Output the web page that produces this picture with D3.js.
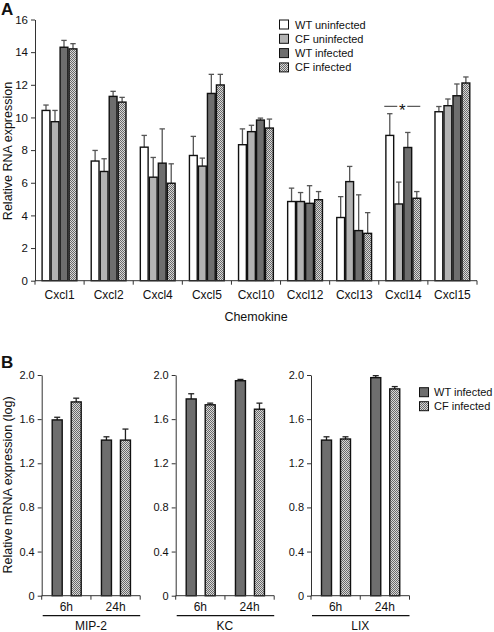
<!DOCTYPE html>
<html><head><meta charset="utf-8">
<script src="https://cdn.jsdelivr.net/npm/d3@7"></script>
<style>body{margin:0;background:#fff}text{font-family:"Liberation Sans",Arial,sans-serif;fill:#111}</style>
</head><body>
<svg id="c" width="494" height="632"></svg>
<script>
// ---------- Panel A data ----------
const chemokines = ["Cxcl1","Cxcl2","Cxcl4","Cxcl5","Cxcl10","Cxcl12","Cxcl13","Cxcl14","Cxcl15"];
const seriesA = ["WT uninfected","CF uninfected","WT infected","CF infected"];
const wtUninf     = [10.43, 7.33, 8.18, 7.67, 8.33, 4.85, 3.87, 8.90, 10.35];
const wtUninfErr  = [10.76, 7.98, 8.90, 8.84, 9.30, 5.67, 5.15, 10.23, 10.67];
const cfUninf     = [9.74, 6.69, 6.34, 7.02, 9.13, 4.85, 6.07, 4.70, 10.72];
const cfUninfErr  = [10.43, 7.47, 7.55, 7.51, 9.52, 5.40, 7.00, 6.04, 11.13];
const wtInf       = [14.30, 11.29, 7.20, 11.47, 9.84, 4.74, 3.07, 8.16, 11.33];
const wtInfErr    = [14.72, 11.60, 9.30, 12.64, 9.96, 5.82, 5.26, 9.08, 12.05];
const cfInf       = [14.20, 10.94, 5.97, 11.99, 9.35, 4.96, 2.90, 5.05, 12.11];
const cfInfErr    = [14.52, 11.23, 7.16, 12.64, 9.90, 5.46, 4.17, 5.46, 12.48];
const yTicksA = [0,2,4,6,8,10,12,14,16];

// ---------- Panel B data ----------
const genesB = ["MIP-2","KC","LIX"];
const timesB = ["6h","24h"];
const seriesB = ["WT infected","CF infected"];
// [gene][time]
const wtInfB    = [[1.593, 1.41], [1.783, 1.948], [1.41, 1.976]];
const wtInfBErr = [[1.617, 1.44], [1.830, 1.960], [1.44, 1.994]];
const cfInfB    = [[1.756, 1.41], [1.730, 1.690], [1.42, 1.874]];
const cfInfBErr = [[1.790, 1.51], [1.745, 1.745], [1.44, 1.895]];
const yTicksB = [0,0.4,0.8,1.2,1.6,2.0];

const svg = d3.select("#c");
const defs = svg.append("defs");
const pat = defs.append("pattern").attr("id","hatch").attr("width",2).attr("height",2).attr("patternUnits","userSpaceOnUse");
pat.append("rect").attr("width",2).attr("height",2).attr("fill","#d8d8d8");
pat.append("rect").attr("x",0).attr("y",0).attr("width",1).attr("height",1).attr("fill","#6a6a6a");
pat.append("rect").attr("x",1).attr("y",1).attr("width",1).attr("height",1).attr("fill","#6a6a6a");

const fillsA = ["#ffffff","#b3b3b3","#6e6e6e","url(#hatch)"];
const fillsB = ["#6e6e6e","url(#hatch)"];
const axisCol = "#333";

// ================= PANEL A =================
const xA = d3.scaleBand().domain(chemokines).range([35, 477]).padding(0);
const subA = d3.scaleBand().domain(seriesA).range([6.5, 42.5]).padding(0);
const yA = d3.scaleLinear().domain([0,16]).range([280.7, 19.5]);
const valsA = [wtUninf, cfUninf, wtInf, cfInf];
const errsA = [wtUninfErr, cfUninfErr, wtInfErr, cfInfErr];

const gA = svg.append("g");
const yAxA = gA.append("g").attr("transform","translate(35,0)")
  .call(d3.axisLeft(yA).tickValues(yTicksA).tickSize(4).tickPadding(3).tickSizeOuter(0));
yAxA.select(".domain").attr("stroke",axisCol);
yAxA.selectAll(".tick line").attr("stroke",axisCol);
yAxA.selectAll("text").attr("font-size",11.5).style("font-family","Liberation Sans, Arial, sans-serif").attr("fill","#111");

chemokines.forEach((c,i)=>{
  seriesA.forEach((s,j)=>{
    const x0 = xA(c)+subA(s), w = subA.bandwidth();
    const v = valsA[j][i], e = errsA[j][i];
    const cx = x0 + w/2;
    gA.append("line").attr("x1",cx).attr("x2",cx).attr("y1",yA(v)).attr("y2",yA(e)).attr("stroke","#555").attr("stroke-width",1.3);
    gA.append("line").attr("x1",cx-2.7).attr("x2",cx+2.7).attr("y1",yA(e)).attr("y2",yA(e)).attr("stroke","#555").attr("stroke-width",1.3);
    gA.append("rect").attr("x",x0+0.6).attr("y",yA(v)).attr("width",w-1.2).attr("height",yA(0)-yA(v))
      .attr("fill",fillsA[j]).attr("stroke","#111").attr("stroke-width",1.4);
  });
});

const xTickPos = chemokines.map(c=>xA(c)).concat([xA.range()[1]]);
gA.append("line").attr("x1",35).attr("x2",477).attr("y1",yA(0)).attr("y2",yA(0)).attr("stroke",axisCol);
xTickPos.forEach(p=>gA.append("line").attr("x1",p).attr("x2",p).attr("y1",yA(0)).attr("y2",yA(0)+4).attr("stroke",axisCol));
chemokines.forEach(c=>gA.append("text").attr("x",xA(c)+xA.bandwidth()/2).attr("y",298.5).attr("text-anchor","middle").attr("font-size",12).text(c));
gA.append("text").attr("x",256).attr("y",321).attr("text-anchor","middle").attr("font-size",12.5).text("Chemokine");
gA.append("text").attr("transform","translate(12,151) rotate(-90)").attr("text-anchor","middle").attr("font-size",12.5).text("Relative RNA expression");
gA.append("text").attr("x",1).attr("y",15).attr("font-size",17).attr("font-weight","bold").text("A");

// significance
const sigL = xA("Cxcl14")+subA(seriesA[0])-1, sigR = xA("Cxcl14")+subA(seriesA[3])+subA.bandwidth()-1;
const sigY = 106.3, sigMid = (sigL+sigR)/2;
gA.append("line").attr("x1",sigL).attr("x2",sigMid-5).attr("y1",sigY).attr("y2",sigY).attr("stroke","#333");
gA.append("line").attr("x1",sigMid+5).attr("x2",sigR).attr("y1",sigY).attr("y2",sigY).attr("stroke","#333");
gA.append("text").attr("x",sigMid).attr("y",sigY+9.5).attr("text-anchor","middle").attr("font-size",17).text("*");

// legend A
seriesA.forEach((s,j)=>{
  const y = 20 + j*14.3;
  gA.append("rect").attr("x",279.5).attr("y",y).attr("width",9).attr("height",9).attr("fill",fillsA[j]).attr("stroke","#111").attr("stroke-width",1);
  gA.append("text").attr("x",295).attr("y",y+8.5).attr("font-size",11).text(s);
});

// ================= PANEL B =================
const yB = d3.scaleLinear().domain([0,2.0]).range([595.7, 375]);
const axStarts = [41.7, 175.7, 311];
const subW = 98.5;
genesB.forEach((gname,gi)=>{
  const x0 = axStarts[gi];
  const xB = d3.scaleBand().domain(timesB).range([x0, x0+subW]).padding(0);
  const sB = d3.scaleOrdinal().domain(seriesB).range([10.5, 29.5]);
  const g = svg.append("g");
  const yAx = g.append("g").attr("transform",`translate(${x0},0)`)
    .call(d3.axisLeft(yB).tickValues(yTicksB).tickSize(4).tickPadding(3).tickSizeOuter(0)
      .tickFormat(d=>d===0?"0":d3.format(".1f")(d)));
  yAx.select(".domain").attr("stroke",axisCol);
  yAx.selectAll(".tick line").attr("stroke",axisCol);
  yAx.selectAll("text").attr("font-size",11).style("font-family","Liberation Sans, Arial, sans-serif").attr("fill","#111");
  const vals = [wtInfB[gi], cfInfB[gi]], errs = [wtInfBErr[gi], cfInfBErr[gi]];
  timesB.forEach((t,ti)=>{
    seriesB.forEach((s,si)=>{
      const bx = xB(t)+sB(s), w = 10;
      const v = vals[si][ti], e = errs[si][ti];
      const cx = bx + w/2;
      g.append("line").attr("x1",cx).attr("x2",cx).attr("y1",yB(v)).attr("y2",yB(e)).attr("stroke","#222").attr("stroke-width",1.3);
      g.append("line").attr("x1",cx-3).attr("x2",cx+3).attr("y1",yB(e)).attr("y2",yB(e)).attr("stroke","#222").attr("stroke-width",1.3);
      g.append("rect").attr("x",bx).attr("y",yB(v)).attr("width",w).attr("height",yB(0)-yB(v))
        .attr("fill",fillsB[si]).attr("stroke","#111").attr("stroke-width",1.4);
    });
    g.append("text").attr("x",xB(t)+xB.bandwidth()/2).attr("y",610.5).attr("text-anchor","middle").attr("font-size",12).text(t);
  });
  g.append("line").attr("x1",x0).attr("x2",x0+subW).attr("y1",yB(0)).attr("y2",yB(0)).attr("stroke",axisCol);
  [x0, x0+subW/2, x0+subW].forEach(p=>g.append("line").attr("x1",p).attr("x2",p).attr("y1",yB(0)).attr("y2",yB(0)+4).attr("stroke",axisCol));
  g.append("line").attr("x1",x0+1).attr("x2",x0+subW).attr("y1",615.7).attr("y2",615.7).attr("stroke","#111").attr("stroke-width",1.2);
  g.append("text").attr("x",x0+subW/2).attr("y",630).attr("text-anchor","middle").attr("font-size",12).text(gname);
});
svg.append("text").attr("transform","translate(12,485) rotate(-90)").attr("text-anchor","middle").attr("font-size",12.5).text("Relative mRNA expression (log)");
svg.append("text").attr("x",1).attr("y",368).attr("font-size",17).attr("font-weight","bold").text("B");
seriesB.forEach((s,j)=>{
  const y = 387.7 + j*14;
  svg.append("rect").attr("x",419.5).attr("y",y).attr("width",9).attr("height",9).attr("fill",fillsB[j]).attr("stroke","#111").attr("stroke-width",1);
  svg.append("text").attr("x",434).attr("y",y+8.5).attr("font-size",11).text(s);
});
</script>
</body></html>
